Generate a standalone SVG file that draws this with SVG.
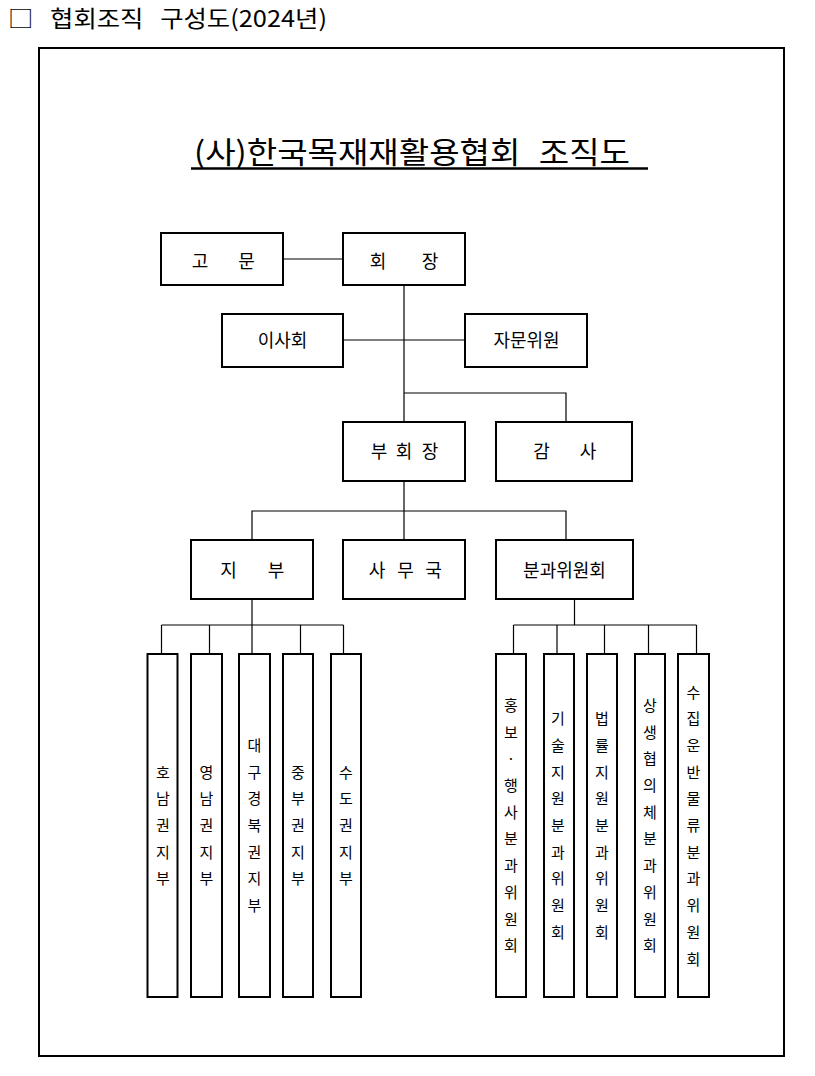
<svg xmlns="http://www.w3.org/2000/svg" width="815" height="1076" viewBox="0 0 815 1076">
<style>
text{font-family:"Noto Sans CJK KR","Noto Sans",sans-serif;fill:#000}
.box{fill:#fff;stroke:#000;stroke-width:2}
.lbl{font-size:18px;text-anchor:middle}
.vt{font-size:15px;text-anchor:middle}
.conn line,.conn polyline{stroke:#000;stroke-width:1.2;fill:none}
</style>
<rect width="815" height="1076" fill="#fff"/>
<text id="header" x="8" y="27" font-size="23" word-spacing="10" textLength="319" lengthAdjust="spacingAndGlyphs">□ 협회조직 구성도(2024년)</text>
<rect id="frame" x="39" y="48" width="745" height="1008" fill="none" stroke="#000" stroke-width="2"/>
<g id="title">
<text x="194" y="163" font-size="30" word-spacing="10" textLength="436" lengthAdjust="spacingAndGlyphs">(사)한국목재재활용협회 조직도</text>
<line x1="191" y1="168.5" x2="648" y2="168.5" stroke="#000" stroke-width="2.5"/>
</g>
<g class="conn" id="connectors">
<line x1="283" y1="259" x2="343" y2="259"/>
<line x1="404" y1="285" x2="404" y2="422"/>
<line x1="343" y1="340" x2="465" y2="340"/>
<polyline points="404,393 566,393 566,422"/>
<line x1="404" y1="481" x2="404" y2="540"/>
<polyline points="252,540 252,511 566,511 566,540"/>
<line x1="252" y1="599" x2="252" y2="625"/>
<line x1="161.5" y1="625" x2="343.5" y2="625"/>
<line x1="161.5" y1="625" x2="161.5" y2="654"/>
<line x1="209.5" y1="625" x2="209.5" y2="654"/>
<line x1="252" y1="625" x2="252" y2="654"/>
<line x1="300.5" y1="625" x2="300.5" y2="654"/>
<line x1="343.5" y1="625" x2="343.5" y2="654"/>
<line x1="574.5" y1="599" x2="574.5" y2="625"/>
<line x1="513.5" y1="625" x2="696.5" y2="625"/>
<line x1="513.5" y1="625" x2="513.5" y2="654"/>
<line x1="557" y1="625" x2="557" y2="654"/>
<line x1="604.5" y1="625" x2="604.5" y2="654"/>
<line x1="648.5" y1="625" x2="648.5" y2="654"/>
<line x1="696.5" y1="625" x2="696.5" y2="654"/>
</g>
<g id="n-gomun"><rect class="box" x="161" y="233" width="122" height="52"/><text class="lbl" x="200 223 246.5" y="267.5">고 문</text></g>
<g id="n-hoejang"><rect class="box" x="343" y="233" width="122" height="52"/><text class="lbl" x="378 404 430" y="267.5">회 장</text></g>
<g id="n-isahoe"><rect class="box" x="222" y="314" width="121" height="53"/><text class="lbl" x="282.5" y="347">이사회</text></g>
<g id="n-jamun"><rect class="box" x="465" y="314" width="122" height="53"/><text class="lbl" x="526.5" y="347">자문위원</text></g>
<g id="n-buhoejang"><rect class="box" x="343" y="422" width="122" height="59"/><text class="lbl" x="379 391 404 417 430" y="458">부 회 장</text></g>
<g id="n-gamsa"><rect class="box" x="496" y="422" width="136" height="59"/><text class="lbl" x="541.5 564 588" y="458">감 사</text></g>
<g id="n-jibu"><rect class="box" x="191" y="540" width="122" height="59"/><text class="lbl" x="228.5 252 276" y="577">지 부</text></g>
<g id="n-samuguk"><rect class="box" x="343" y="540" width="122" height="59"/><text class="lbl" x="377 391 405.5 419 433.5" y="577">사 무 국</text></g>
<g id="n-bungwa"><rect class="box" x="496" y="540" width="137" height="59"/><text class="lbl" x="564.5" y="577">분과위원회</text></g>

<g id="n-honam"><rect class="box" x="147.5" y="654" width="30" height="343"/><text class="vt"><tspan x="163" y="777.6">호</tspan><tspan x="163" y="804.3">남</tspan><tspan x="163" y="831">권</tspan><tspan x="163" y="857.7">지</tspan><tspan x="163" y="884.4">부</tspan></text></g>
<g id="n-yeongnam"><rect class="box" x="191" y="654" width="31" height="343"/><text class="vt"><tspan x="206.5" y="777.6">영</tspan><tspan x="206.5" y="804.3">남</tspan><tspan x="206.5" y="831">권</tspan><tspan x="206.5" y="857.7">지</tspan><tspan x="206.5" y="884.4">부</tspan></text></g>
<g id="n-daegu"><rect class="box" x="239" y="654" width="31" height="343"/><text class="vt"><tspan x="254.5" y="750.9">대</tspan><tspan x="254.5" y="777.6">구</tspan><tspan x="254.5" y="804.3">경</tspan><tspan x="254.5" y="831">북</tspan><tspan x="254.5" y="857.7">권</tspan><tspan x="254.5" y="884.4">지</tspan><tspan x="254.5" y="911.1">부</tspan></text></g>
<g id="n-jungbu"><rect class="box" x="283" y="654" width="30" height="343"/><text class="vt"><tspan x="298" y="777.6">중</tspan><tspan x="298" y="804.3">부</tspan><tspan x="298" y="831">권</tspan><tspan x="298" y="857.7">지</tspan><tspan x="298" y="884.4">부</tspan></text></g>
<g id="n-sudo"><rect class="box" x="331" y="654" width="30" height="343"/><text class="vt"><tspan x="346" y="777.6">수</tspan><tspan x="346" y="804.3">도</tspan><tspan x="346" y="831">권</tspan><tspan x="346" y="857.7">지</tspan><tspan x="346" y="884.4">부</tspan></text></g>

<g id="n-hongbo"><rect class="box" x="496" y="654" width="30" height="343"/><text class="vt"><tspan x="511" y="710.9">홍</tspan><tspan x="511" y="737.6">보</tspan><tspan x="511" y="764.3">·</tspan><tspan x="511" y="791">행</tspan><tspan x="511" y="817.7">사</tspan><tspan x="511" y="844.4">분</tspan><tspan x="511" y="871.1">과</tspan><tspan x="511" y="897.8">위</tspan><tspan x="511" y="924.5">원</tspan><tspan x="511" y="951.2">회</tspan></text></g>
<g id="n-gisul"><rect class="box" x="544" y="654" width="30" height="343"/><text class="vt"><tspan x="558" y="724.2">기</tspan><tspan x="558" y="750.9">술</tspan><tspan x="558" y="777.6">지</tspan><tspan x="558" y="804.3">원</tspan><tspan x="558" y="831">분</tspan><tspan x="558" y="857.7">과</tspan><tspan x="558" y="884.4">위</tspan><tspan x="558" y="911.1">원</tspan><tspan x="558" y="937.8">회</tspan></text></g>
<g id="n-beomnyul"><rect class="box" x="587" y="654" width="30" height="343"/><text class="vt"><tspan x="602" y="724.2">법</tspan><tspan x="602" y="750.9">률</tspan><tspan x="602" y="777.6">지</tspan><tspan x="602" y="804.3">원</tspan><tspan x="602" y="831">분</tspan><tspan x="602" y="857.7">과</tspan><tspan x="602" y="884.4">위</tspan><tspan x="602" y="911.1">원</tspan><tspan x="602" y="937.8">회</tspan></text></g>
<g id="n-sangsaeng"><rect class="box" x="635" y="654" width="30" height="343"/><text class="vt"><tspan x="650" y="710.9">상</tspan><tspan x="650" y="737.6">생</tspan><tspan x="650" y="764.3">협</tspan><tspan x="650" y="791">의</tspan><tspan x="650" y="817.7">체</tspan><tspan x="650" y="844.4">분</tspan><tspan x="650" y="871.1">과</tspan><tspan x="650" y="897.8">위</tspan><tspan x="650" y="924.5">원</tspan><tspan x="650" y="951.2">회</tspan></text></g>
<g id="n-sujip"><rect class="box" x="678" y="654" width="31" height="343"/><text class="vt"><tspan x="693.5" y="697.5">수</tspan><tspan x="693.5" y="724.2">집</tspan><tspan x="693.5" y="750.9">운</tspan><tspan x="693.5" y="777.6">반</tspan><tspan x="693.5" y="804.3">물</tspan><tspan x="693.5" y="831">류</tspan><tspan x="693.5" y="857.7">분</tspan><tspan x="693.5" y="884.4">과</tspan><tspan x="693.5" y="911.1">위</tspan><tspan x="693.5" y="937.8">원</tspan><tspan x="693.5" y="964.5">회</tspan></text></g>
</svg>
